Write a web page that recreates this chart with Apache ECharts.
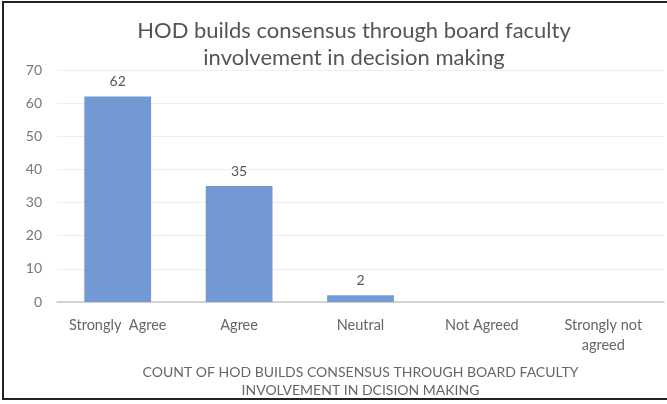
<!DOCTYPE html>
<html><head><meta charset="utf-8">
<script src="https://cdn.jsdelivr.net/npm/echarts@6/dist/echarts.min.js"></script>
<style>html,body{margin:0;padding:0;background:#fff}#c{width:667px;height:404px}
#frame{position:absolute;left:2px;top:1px;width:700px;height:399px;border:2px solid #222;box-sizing:border-box;pointer-events:none}</style>
</head><body>
<div id="c"></div><div id="frame"></div>
<script>
const categories = ["Strongly  Agree", "Agree", "Neutral", "Not Agreed", "Strongly not\nagreed"];
const counts = [62, 35, 2, 0, 0];
const yTicks = {min: 0, max: 70, interval: 10};
const titleText = "HOD builds consensus through board faculty\ninvolvement in decision making";
const xAxisTitle = "COUNT OF HOD BUILDS CONSENSUS THROUGH BOARD FACULTY\nINVOLVEMENT IN DCISION MAKING";

const chart = echarts.init(document.getElementById('c'), null, {renderer: 'canvas'});
const font = 'Lato, "Open Sans", sans-serif';
chart.setOption({
  animation: false,
  title: {text: titleText, left: 349, textAlign: 'center', top: 12,
    textStyle: {fontFamily: font, fontSize: 22, fontWeight: 'normal', color: '#555', lineHeight: 27}},
  grid: {left: 57, right: 3, top: 70, bottom: 102, outerBoundsMode: 'none', containLabel: false},
  xAxis: {type: 'category', data: categories,
    axisLine: {lineStyle: {color: '#c8c8c8', width: 1.5}}, axisTick: {show: false},
    axisLabel: {interval: 0, fontFamily: font, fontSize: 14.5, color: '#666', margin: 13, lineHeight: 20},
    name: xAxisTitle, nameLocation: 'middle', nameGap: 61,
    nameTextStyle: {fontFamily: font, fontSize: 14, color: '#666', lineHeight: 18}},
  yAxis: {type: 'value', min: yTicks.min, max: yTicks.max, interval: yTicks.interval,
    axisLine: {show: false}, axisTick: {show: false},
    axisLabel: {fontFamily: font, fontSize: 14, color: '#777', margin: 15},
    splitLine: {lineStyle: {color: '#eeeeee'}}},
  series: [{type: 'bar', data: counts, barWidth: '55%',
    itemStyle: {color: '#7399d4'},
    label: {show: true, position: 'top', distance: 8, fontFamily: font, fontSize: 14, color: '#555',
      formatter: p => p.value > 0 ? p.value : ''}}]
});
</script></body></html>
